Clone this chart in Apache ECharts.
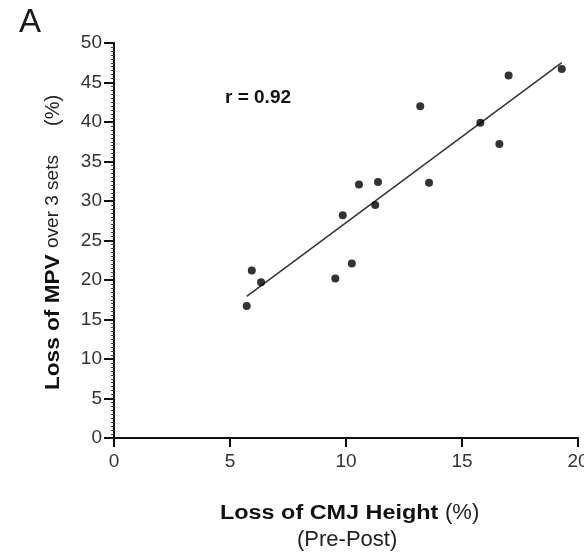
<!DOCTYPE html>
<html>
<head>
<meta charset="utf-8">
<script src="https://cdn.jsdelivr.net/npm/echarts@6/dist/echarts.min.js"></script>
<style>
  html, body { margin: 0; padding: 0; background: #fff; }
  #chart { width: 584px; height: 554px; }
</style>
</head>
<body>
<div id="chart"></div>
<script>
// Loss of CMJ height (%) vs loss of mean propulsive velocity over 3 sets (%)
const cmjLoss = [19.30, 17.01, 13.20, 15.79, 16.61, 13.58, 10.56, 11.38, 11.26, 9.86, 10.25, 9.54, 5.94, 6.34, 5.72];
const mpvLoss = [46.7, 45.9, 42.0, 39.9, 37.2, 32.3, 32.1, 32.4, 29.5, 28.2, 22.1, 20.2, 21.2, 19.7, 16.7];
const xTicks = [0, 5, 10, 15, 20];
const yTicks = [0, 5, 10, 15, 20, 25, 30, 35, 40, 45, 50];
const panelLabel = 'A';
const rLabel = 'r = 0.92';

const points = cmjLoss.map((x, i) => [x, mpvLoss[i]]);

// Least-squares fit drawn across the range of the data
function fitLine(xs, ys) {
  const n = xs.length;
  const mx = xs.reduce((a, b) => a + b, 0) / n;
  const my = ys.reduce((a, b) => a + b, 0) / n;
  let sxx = 0, sxy = 0;
  for (let i = 0; i < n; i++) {
    sxx += (xs[i] - mx) * (xs[i] - mx);
    sxy += (xs[i] - mx) * (ys[i] - my);
  }
  const slope = sxy / sxx;
  const intercept = my - slope * mx;
  const x0 = Math.min(...xs), x1 = Math.max(...xs);
  return [[x0, intercept + slope * x0], [x1, intercept + slope * x1]];
}
const fit = fitLine(cmjLoss, mpvLoss);

const chart = echarts.init(document.getElementById('chart'), null, { renderer: 'canvas' });
const FONT = '"Liberation Sans", Arial, Helvetica, sans-serif';
const INK = '#111';

chart.setOption({
  backgroundColor: '#fff',
  animation: false,
  grid: { left: 114, right: 6, top: 43, bottom: 116, containLabel: false, outerBoundsMode: 'none' },
  xAxis: {
    type: 'value',
    min: xTicks[0], max: xTicks[xTicks.length - 1], interval: 5,
    axisLine: { show: true, onZero: false, lineStyle: { color: INK, width: 2 } },
    axisTick: { show: true, length: 9, lineStyle: { color: INK, width: 2 } },
    axisLabel: { color: '#333', fontSize: 19, fontFamily: FONT, margin: 14, hideOverlap: false },
    splitLine: { show: false }
  },
  yAxis: {
    type: 'value',
    min: yTicks[0], max: yTicks[yTicks.length - 1], interval: 5,
    axisLine: { show: true, onZero: false, lineStyle: { color: INK, width: 2 } },
    axisTick: { show: true, length: 10, lineStyle: { color: INK, width: 2 } },
    minorTick: { show: true, splitNumber: 10, length: 3, lineStyle: { color: '#444', width: 1 } },
    axisLabel: { color: '#333', fontSize: 19, fontFamily: FONT, margin: 12 },
    splitLine: { show: false }
  },
  series: [
    {
      type: 'line',
      data: fit,
      symbol: 'none',
      lineStyle: { color: '#333', width: 1.5 },
      z: 2,
      silent: true
    },
    {
      type: 'scatter',
      data: points,
      symbol: 'circle',
      symbolSize: 8,
      itemStyle: { color: '#000' },
      z: 3
    }
  ],
  graphic: [
    { type: 'text', left: 19, top: 6,
      style: { text: panelLabel, font: '33px ' + FONT, fill: '#1a1a1a' } },
    { type: 'text', x: 225, y: 98,
      style: { text: rLabel, font: 'bold 19px ' + FONT, fill: INK, textVerticalAlign: 'middle' } },
    // x axis title
    { type: 'text', x: 220, y: 513, scaleX: 1.17,
      style: { text: 'Loss of CMJ Height', font: 'bold 20px ' + FONT, fill: INK, textVerticalAlign: 'middle' } },
    { type: 'text', x: 445, y: 513,
      style: { text: '(%)', font: '22px ' + FONT, fill: '#222', textVerticalAlign: 'middle' } },
    { type: 'text', x: 297, y: 540,
      style: { text: '(Pre-Post)', font: '22px ' + FONT, fill: '#222', textVerticalAlign: 'middle' } },
    // y axis title, read bottom to top
    { type: 'text', x: 53, y: 390, rotation: Math.PI / 2, scaleX: 1.13,
      style: { text: 'Loss of MPV', font: 'bold 20px ' + FONT, fill: INK, textVerticalAlign: 'middle' } },
    { type: 'text', x: 53, y: 248, rotation: Math.PI / 2,
      style: { text: 'over 3 sets', font: '19px ' + FONT, fill: '#222', textVerticalAlign: 'middle' } },
    { type: 'text', x: 53, y: 126, rotation: Math.PI / 2,
      style: { text: '(%)', font: '20px ' + FONT, fill: '#222', textVerticalAlign: 'middle' } }
  ]
});
</script>
</body>
</html>
